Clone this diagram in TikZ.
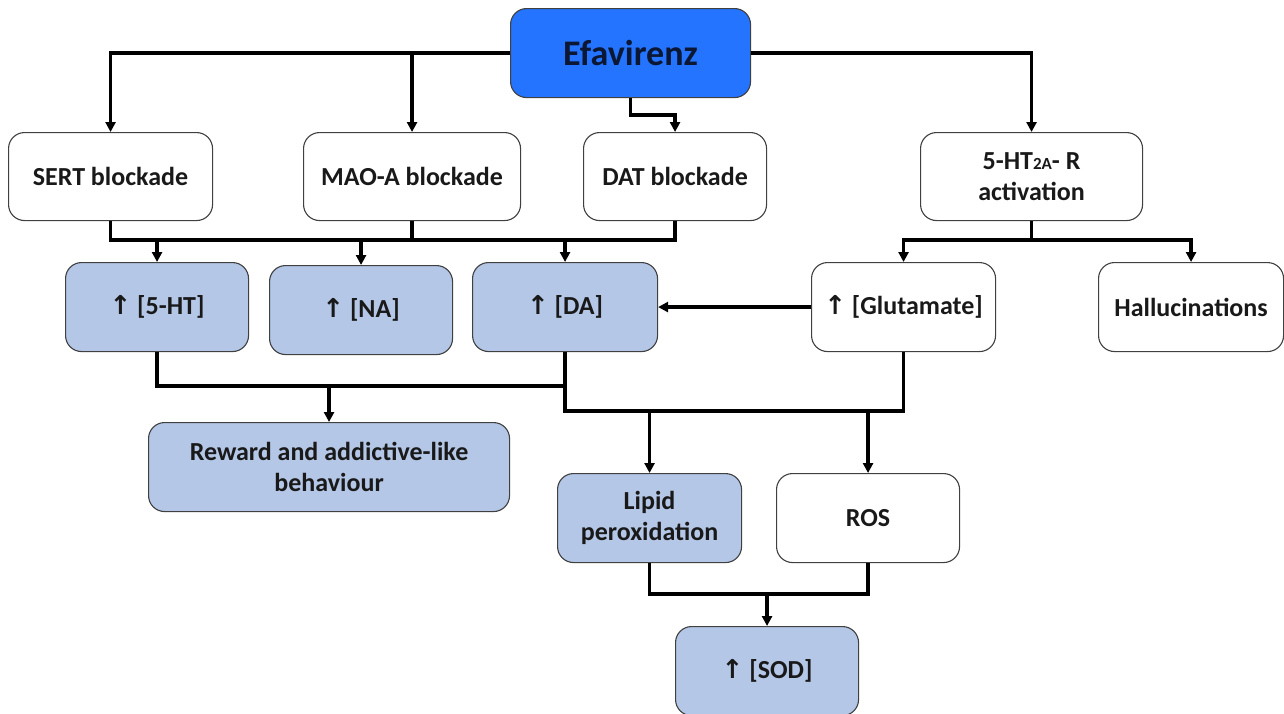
\documentclass[tikz,border=0pt]{standalone}
\usepackage{fontspec}
\setmainfont{Carlito}
\newfontfamily\arrfont{DejaVu Sans}
\usetikzlibrary{arrows.meta}
\definecolor{efablue}{HTML}{2474FF}
\definecolor{lblue}{HTML}{B4C7E7}
\definecolor{bord}{HTML}{404040}
\definecolor{navy}{HTML}{0B1733}
\newcommand{\upar}{{\arrfont\bfseries\char"2191}}
\tikzset{
  box/.style={draw=bord, line width=1.1pt, rounded corners=16pt, anchor=north west,
    align=center, font=\fontsize{26}{31}\selectfont\bfseries, text=black!90, inner sep=4pt},
  wbox/.style={box, fill=white},
  bbox/.style={box, fill=lblue},
  ln/.style={line width=3.2pt, black},
  conn/.style={ln, -{Triangle[length=10pt,width=10pt]}}
}
\begin{document}
\begin{tikzpicture}[x=1pt,y=-1pt]
\useasboundingbox (0,0) rectangle (1284,713);
\node[box, fill=efablue, text=navy, minimum width=240pt, minimum height=89pt,
  font=\fontsize{36}{42}\selectfont\bfseries] (efa) at (510,8) {Efavirenz};
\node[wbox, minimum width=204pt, minimum height=88pt] (sert) at (8,132) {SERT blockade};
\node[wbox, minimum width=217pt, minimum height=88pt] (mao) at (303,132) {MAO-A blockade};
\node[wbox, minimum width=183pt, minimum height=88pt] (dat) at (583,132) {DAT blockade};
\node[wbox, minimum width=222pt, minimum height=88pt] (htr) at (920,132) {5-HT{\fontsize{17}{20}\selectfont 2A}- R\\activation};
\node[bbox, minimum width=183pt, minimum height=89pt] (ht) at (65,262) {\upar\ [5-HT]};
\node[bbox, minimum width=183pt, minimum height=89pt] (na) at (269,265) {\upar\ [NA]};
\node[bbox, minimum width=185pt, minimum height=89pt] (da) at (472,262) {\upar\ [DA]};
\node[wbox, minimum width=184pt, minimum height=89pt] (glu) at (811,262) {\upar\ [Glutamate]};
\node[wbox, minimum width=185pt, minimum height=89pt] (hal) at (1098,262) {Hallucinations};
\node[bbox, minimum width=361pt, minimum height=89pt] (rew) at (148,422) {Reward and addictive-like\\behaviour};
\node[bbox, minimum width=184pt, minimum height=89pt] (lip) at (557,473) {Lipid\\peroxidation};
\node[wbox, minimum width=183pt, minimum height=89pt] (ros) at (776,473) {ROS};
\node[bbox, minimum width=183pt, minimum height=89pt] (sod) at (675,626) {\upar\ [SOD]};
\coordinate (j1) at (0,115);
\coordinate (b1) at (0,240);
\coordinate (b3) at (0,386);
\coordinate (b4) at (0,411);
\coordinate (b5) at (0,594);
% from Efavirenz
\draw[conn] (efa.west) -| (sert.north);
\draw[conn] (mao.north |- efa.west) -- (mao.north);
\draw[conn] (efa.east) -| (htr.north);
\draw[conn] (efa.south) -- (efa.south |- j1) -| (dat.north);
% blockade bus
\draw[ln] (sert.south) |- (dat.south |- b1) -- (dat.south);
\draw[ln] (mao.south) -- (mao.south |- b1);
\draw[conn] (ht.north |- b1) -- (ht.north);
\draw[conn] (na.north |- b1) -- (na.north);
\draw[conn] (da.north |- b1) -- (da.north);
% 5-HT2A bus
\draw[ln] (htr.south) -- (htr.south |- b1);
\draw[conn] (htr.south |- b1) -| (glu.north);
\draw[conn] (htr.south |- b1) -| (hal.north);
% glutamate to DA
\draw[conn] (glu.west) -- (da.east);
% reward bus
\draw[ln] (ht.south) |- (da.south |- b3);
\draw[conn] (rew.north |- b3) -- (rew.north);
% oxidative bus
\draw[ln] (da.south) |- (glu.south |- b4) -- (glu.south);
\draw[conn] (lip.north |- b4) -- (lip.north);
\draw[conn] (ros.north |- b4) -- (ros.north);
% SOD bus
\draw[ln] (lip.south) |- (ros.south |- b5) -- (ros.south);
\draw[conn] (sod.north |- b5) -- (sod.north);
\end{tikzpicture}
\end{document}
